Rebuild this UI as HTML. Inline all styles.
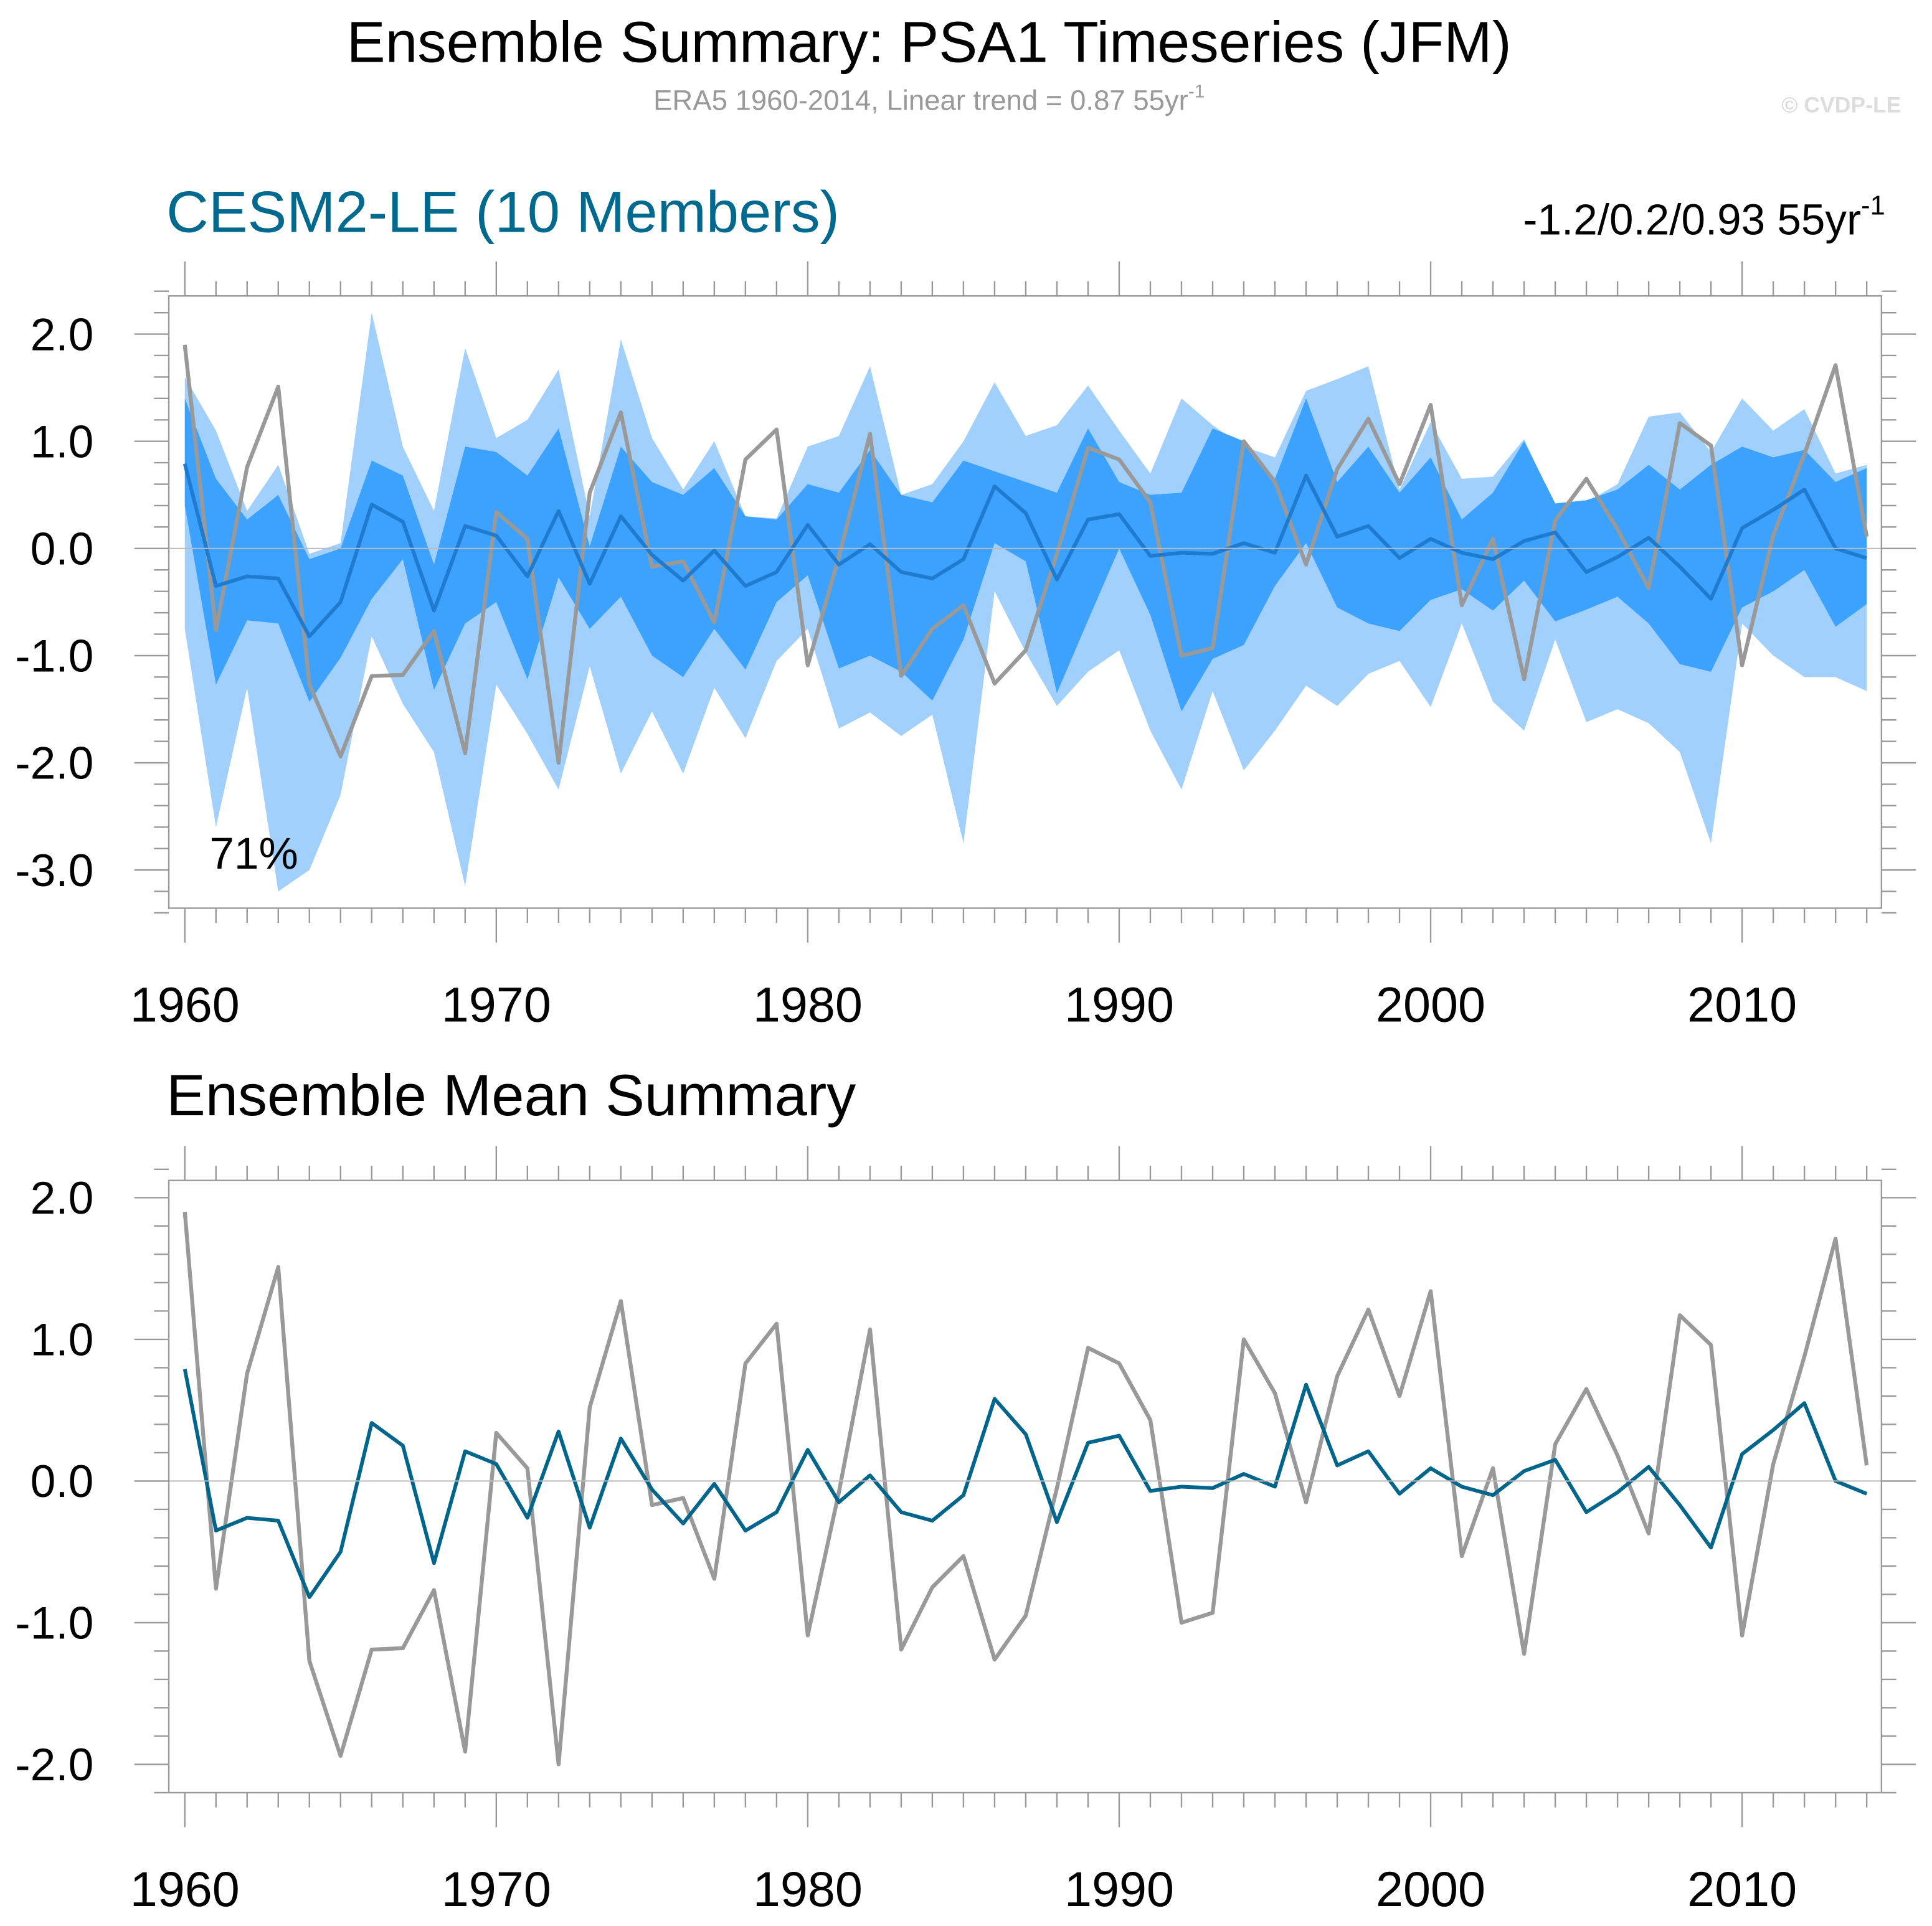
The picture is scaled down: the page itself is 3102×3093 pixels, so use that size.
<!DOCTYPE html>
<html><head><meta charset="utf-8"><style>
html,body{margin:0;padding:0;background:#fff}
svg{display:block;font-family:"Liberation Sans",sans-serif}
</style></head><body>
<svg id="c" width="3102" height="3093" viewBox="0 0 1568 1563" xmlns="http://www.w3.org/2000/svg">
<text x="754" y="50" font-size="47" text-anchor="middle">Ensemble Summary: PSA1 Timeseries (JFM)</text>
<text x="754" y="89" font-size="23" fill="#999" text-anchor="middle">ERA5 1960-2014, Linear trend = 0.87 55yr<tspan font-size="15" dy="-10">-1</tspan></text>
<text x="1543" y="91" font-size="18" fill="#ddd" font-weight="bold" text-anchor="end">© CVDP-LE</text>
<text x="135" y="188" font-size="47.5" fill="#006a8e">CESM2-LE (10 Members)</text>
<text x="1530" y="190" font-size="35" text-anchor="end">-1.2/0.2/0.93 55yr<tspan font-size="22" dy="-16">-1</tspan></text>
<text x="135" y="905" font-size="47.5">Ensemble Mean Summary</text>
</svg>
<script>
const years=[];for(let y=1960;y<=2014;y++)years.push(y);
const era5=[1.9,-0.76,0.76,1.51,-1.27,-1.94,-1.19,-1.18,-0.77,-1.91,0.34,0.09,-2.0,0.52,1.27,-0.17,-0.12,-0.69,0.83,1.11,-1.09,-0.08,1.07,-1.19,-0.75,-0.53,-1.26,-0.95,-0.05,0.94,0.83,0.43,-1.0,-0.93,1.0,0.62,-0.15,0.74,1.21,0.6,1.34,-0.53,0.09,-1.22,0.26,0.65,0.18,-0.37,1.17,0.96,-1.09,0.12,0.88,1.71,0.11];
const ensMean=[0.79,-0.35,-0.26,-0.28,-0.82,-0.5,0.41,0.25,-0.58,0.21,0.12,-0.26,0.35,-0.33,0.3,-0.06,-0.3,-0.02,-0.35,-0.22,0.22,-0.15,0.04,-0.22,-0.28,-0.1,0.58,0.33,-0.29,0.27,0.32,-0.07,-0.04,-0.05,0.05,-0.04,0.68,0.11,0.21,-0.09,0.09,-0.04,-0.1,0.07,0.15,-0.22,-0.08,0.1,-0.17,-0.47,0.19,0.36,0.55,0.0,-0.09];
const ensMax=[1.6,1.1,0.35,0.78,-0.05,0.05,2.2,0.95,0.35,1.87,1.03,1.2,1.67,0.3,1.95,1.03,0.55,1.0,0.3,0.28,0.95,1.05,1.7,0.5,0.6,1.0,1.55,1.05,1.15,1.52,1.1,0.7,1.4,1.15,0.95,0.85,1.47,1.58,1.7,0.55,1.18,0.65,0.67,1.02,0.4,0.43,0.6,1.23,1.27,0.9,1.4,1.1,1.3,0.7,0.78];
const ensMin=[-0.75,-2.6,-1.3,-3.2,-3.0,-2.3,-0.82,-1.45,-1.9,-3.15,-1.27,-1.73,-2.25,-1.1,-2.1,-1.52,-2.1,-1.3,-1.77,-1.05,-0.75,-1.68,-1.53,-1.75,-1.55,-2.75,-0.4,-0.97,-1.47,-1.15,-0.95,-1.7,-2.25,-1.33,-2.07,-1.7,-1.28,-1.47,-1.17,-1.05,-1.48,-0.7,-1.43,-1.7,-0.85,-1.62,-1.5,-1.63,-1.9,-2.75,-0.7,-1.0,-1.2,-1.2,-1.33];
const ensHi=[1.4,0.65,0.27,0.5,-0.1,0.0,0.82,0.68,-0.15,0.95,0.9,0.68,1.12,0.02,0.95,0.62,0.5,0.75,0.3,0.27,0.6,0.52,0.92,0.5,0.43,0.82,0.72,0.62,0.52,1.12,0.62,0.5,0.52,1.12,1.0,0.65,1.4,0.62,0.95,0.52,0.85,0.27,0.52,1.0,0.42,0.45,0.55,0.78,0.55,0.78,0.95,0.85,0.92,0.62,0.75];
const ensLo=[0.4,-1.27,-0.67,-0.7,-1.43,-1.02,-0.47,-0.1,-1.32,-0.7,-0.5,-1.22,-0.27,-0.75,-0.45,-1.0,-1.2,-0.75,-1.13,-0.5,-0.25,-1.12,-1.0,-1.15,-1.42,-0.85,0.05,-0.12,-1.35,-0.67,0.0,-0.62,-1.52,-1.03,-0.9,-0.35,0.05,-0.55,-0.7,-0.77,-0.48,-0.38,-0.58,-0.3,-0.68,-0.57,-0.45,-0.7,-1.08,-1.15,-0.55,-0.4,-0.2,-0.73,-0.52];
const topTicks=["-3.0","-2.0","-1.0","0.0","1.0","2.0"];
const botTicks=["-2.0","-1.0","0.0","1.0","2.0"];
const xTickLabels=["1960","1970","1980","1990","2000","2010"];

const svg=document.getElementById('c');
const NS='http://www.w3.org/2000/svg';
function el(tag,attrs,parent){const e=document.createElementNS(NS,tag);for(const k in attrs)e.setAttribute(k,attrs[k]);(parent||svg).appendChild(e);return e;}
const xs=y=>150+(y-1960)*(1515-150)/54;

function panel(name,top,bot,y0,unit,yMin,yMax,tickLabels){
  const g=el('g',{});
  
  
  const ys=v=>y0-v*unit;
  return {g,ys,draw(){
    const L=137,R=1527;
    const z=el('line',{x1:L,x2:R,y1:ys(0),y2:ys(0),stroke:'#bbb','stroke-width':1},g);
    
    
    const f=el('rect',{x:L,y:top,width:R-L,height:bot-top,fill:'none',stroke:'#999','stroke-width':1.2},g);
    
    
    for(const y of years){
      const maj=(y%10===0);const len=maj?28:12;const x=xs(y);
      el('line',{x1:x,x2:x,y1:bot,y2:bot+len,stroke:'#999','stroke-width':1.2},g);
      el('line',{x1:x,x2:x,y1:top,y2:top-len,stroke:'#999','stroke-width':1.2},g);
    }
    for(let v=Math.ceil(yMin*5);v<=Math.floor(yMax*5);v++){
      const val=v/5;const maj=Math.abs(v%5)===0;const len=maj?28:12;const y=ys(val);
      el('line',{x1:L,x2:L-len,y1:y,y2:y,stroke:'#999','stroke-width':1.2},g);
      el('line',{x1:R,x2:R+len,y1:y,y2:y,stroke:'#999','stroke-width':1.2},g);
    }
    tickLabels.forEach(t=>{
      const tx=el('text',{x:76,y:ys(parseFloat(t))+13,'font-size':37,'text-anchor':'end'},g);
      tx.textContent=t;
      
      
    });
    xTickLabels.forEach(t=>{
      const tx=el('text',{x:xs(+t),y:bot+92,'font-size':40,'text-anchor':'middle'},g);
      tx.textContent=t;
      
      
    });
  }};
}
function band(p,hi,lo,fill,name){
  let d='M';years.forEach((y,i)=>{d+=xs(y)+','+p.ys(hi[i])+' L';});
  for(let i=years.length-1;i>=0;i--){d+=xs(years[i])+','+p.ys(lo[i])+(i?' L':' Z');}
  const e=el('path',{d,fill,stroke:'none'},p.g);
  
  
}
function line(p,vals,color,w,name){
  const pts=years.map((y,i)=>xs(y)+','+p.ys(vals[i])).join(' ');
  const e=el('polyline',{points:pts,fill:'none',stroke:color,'stroke-width':w,'stroke-linejoin':'round'},p.g);
  
  
}
const p1=panel('top-panel',240,737,445,87,-3.4,2.4,topTicks);
band(p1,ensMax,ensMin,'#a0d0fb','ensemble-range');
band(p1,ensHi,ensLo,'#3ca2fd','ensemble-interquantile');
line(p1,era5,'#999',3.2,'era5-line');
line(p1,ensMean,'#1f7bcf',3,'ensemble-mean-line');
p1.draw();
const p2=panel('bottom-panel',958,1455,1202,115,-2.2,2.2,botTicks);
line(p2,era5,'#999',3.2,'era5-line');
line(p2,ensMean,'#00658a',3,'ensemble-mean-line');
p2.draw();
const pct=el('text',{x:170,y:705,'font-size':36});
pct.textContent='71%';


</script>
</body></html>
